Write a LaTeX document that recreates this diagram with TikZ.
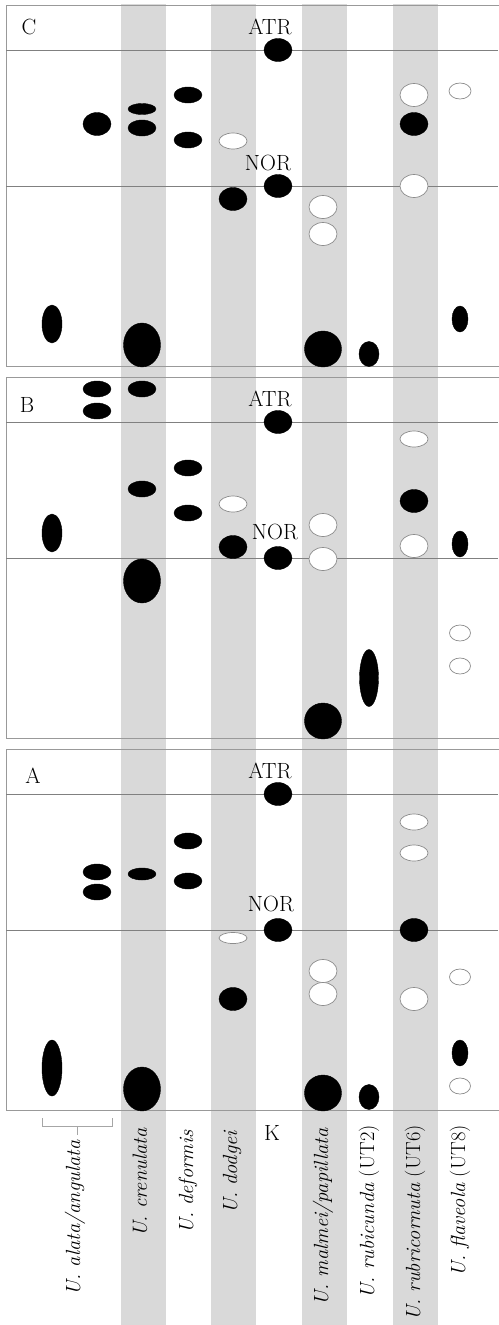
\documentclass[tikz,border=0pt]{standalone}
\usetikzlibrary{positioning}

\begin{document}
\begin{tikzpicture}[x=1pt,y=-1pt,
  lane/.style={fill=black!15, draw=none},
  frame/.style={draw=black!40, line width=1pt},
  front/.style={draw=black!50, line width=0.6pt},
  brace/.style={draw=black!35, line width=0.6pt},
  spotb/.style={fill=black},
  spotw/.style={fill=white, draw=black!45, line width=0.7pt},
  lab/.style={font=\fontsize{22}{24}\selectfont, inner sep=0pt},
  species/.style={font=\fontsize{20.5}{22}\selectfont, rotate=90, anchor=east, inner sep=0pt}]

\useasboundingbox (0,0) rectangle (498,1325);

% Draw the gray lanes
\foreach \x in {121,211,302,393}
  \fill[lane] (\x,4) rectangle (\x+45,1325);

% Draw the three panels with ATR and NOR front lines
\foreach \top/\name/\lx/\ly/\nx/\ny in {5/C/29/22/268/158, 377/B/27/28/275/155, 749/A/33/27/271/155} {
  \draw[frame] (500,\top) -- (6,\top) -- (6,\top+361) -- (500,\top+361);
  \draw[front] (6,\top+45) -- (498,\top+45);
  \draw[front] (6,\top+181) -- (498,\top+181);
  \node[lab] (panel\name) at (\lx,\top+\ly) {\name};
  \node[lab] (atr\name) at (270,\top+22) {ATR};
  \node[lab] (nor\name) at (\nx,\top+\ny) {NOR};
}

% Plot the spots: x/y/x radius/y radius/kind
\foreach \x/\y/\rx/\ry/\k in {
52/324/10/19/b,
97/124/14/11.5/b,
142/109/14/5.5/b,
142/128/14/8/b,
142/345/18.5/22/b,
188/95/14/8/b,
188/140/14/8/b,
233/141/14/8/w,
233/199/14/11.5/b,
278/50/14/11.5/b,
278/186/14/11.5/b,
323/207/14/11.5/w,
323/234/14/11.5/w,
323/349/18.5/18/b,
369/354/10/12.5/b,
414/95/14/11.5/w,
414/124/14/11.5/b,
414/186/14/11.5/w,
460/91/11/8/w,
460/319/8/13/b,
97/389/14/8/b,
97/411/14/8/b,
142/389/14/8/b,
142/489/14/8/b,
142/581/18.5/22/b,
52/533/10/19/b,
188/468/14/8/b,
188/513/14/8/b,
233/504/14/8/w,
233/547/14/11.5/b,
278/422/14/11.5/b,
278/558/14/11.5/b,
323/525/14/11.5/w,
323/559/14/11.5/w,
323/721/18.5/18/b,
369/678/9.5/28.5/b,
414/439/14/8/w,
414/501/14/11.5/b,
414/546/14/11.5/w,
460/544/8/13/b,
460/633/10.5/8/w,
460/666/10.5/8/w,
52/1068/10/28/b,
97/872/14/8/b,
97/892/14/8/b,
142/874/14/6/b,
142/1089/18.5/22/b,
188/841/14/8/b,
188/881/14/8/b,
233/938/14/5.5/w,
233/999/14/11.5/b,
278/794/14/11.5/b,
278/930/14/11.5/b,
323/971/14/11.5/w,
323/994/14/11.5/w,
323/1093/18.5/18/b,
369/1097/10/12.5/b,
414/822/14/8/w,
414/853/14/8/w,
414/930/14/11.5/b,
414/999/14/11.5/w,
460/977/10.5/8/w,
460/1053/8/13/b,
460/1086/10.5/8/w}
{
\draw[spot\k] (\x,\y) ellipse [x radius=\rx, y radius=\ry];
}

% Species names under the lanes
\node[species] (alata) at (75,1140) {\textit{U. alata/angulata}};
\node[species] (crenulata) at (140,1128) {\textit{U. crenulata}};
\node[species] (deformis) at (188,1130) {\textit{U. deformis}};
\node[species] (dodgei) at (232,1130) {\textit{U. dodgei}};
\node[lab] (k) at (272,1133) {K};
\node[species] (malmei) at (323,1128) {\textit{U. malmei/papillata}};
\node[species] (rubicunda) at (369,1125) {\textit{U. rubicunda} (UT2)};
\node[species] (rubricornuta) at (415,1125) {\textit{U. rubricornuta} (UT6)};
\node[species] (flaveola) at (460,1125) {\textit{U. flaveola} (UT8)};

% Bracket over alata/angulata
\draw[brace] (42,1118) |- (112,1126) -- (112,1118);
\coordinate (mid) at (77,1126);
\draw[brace] (mid) -- ([yshift=5pt]mid |- alata.east);

\end{tikzpicture}
\end{document}
